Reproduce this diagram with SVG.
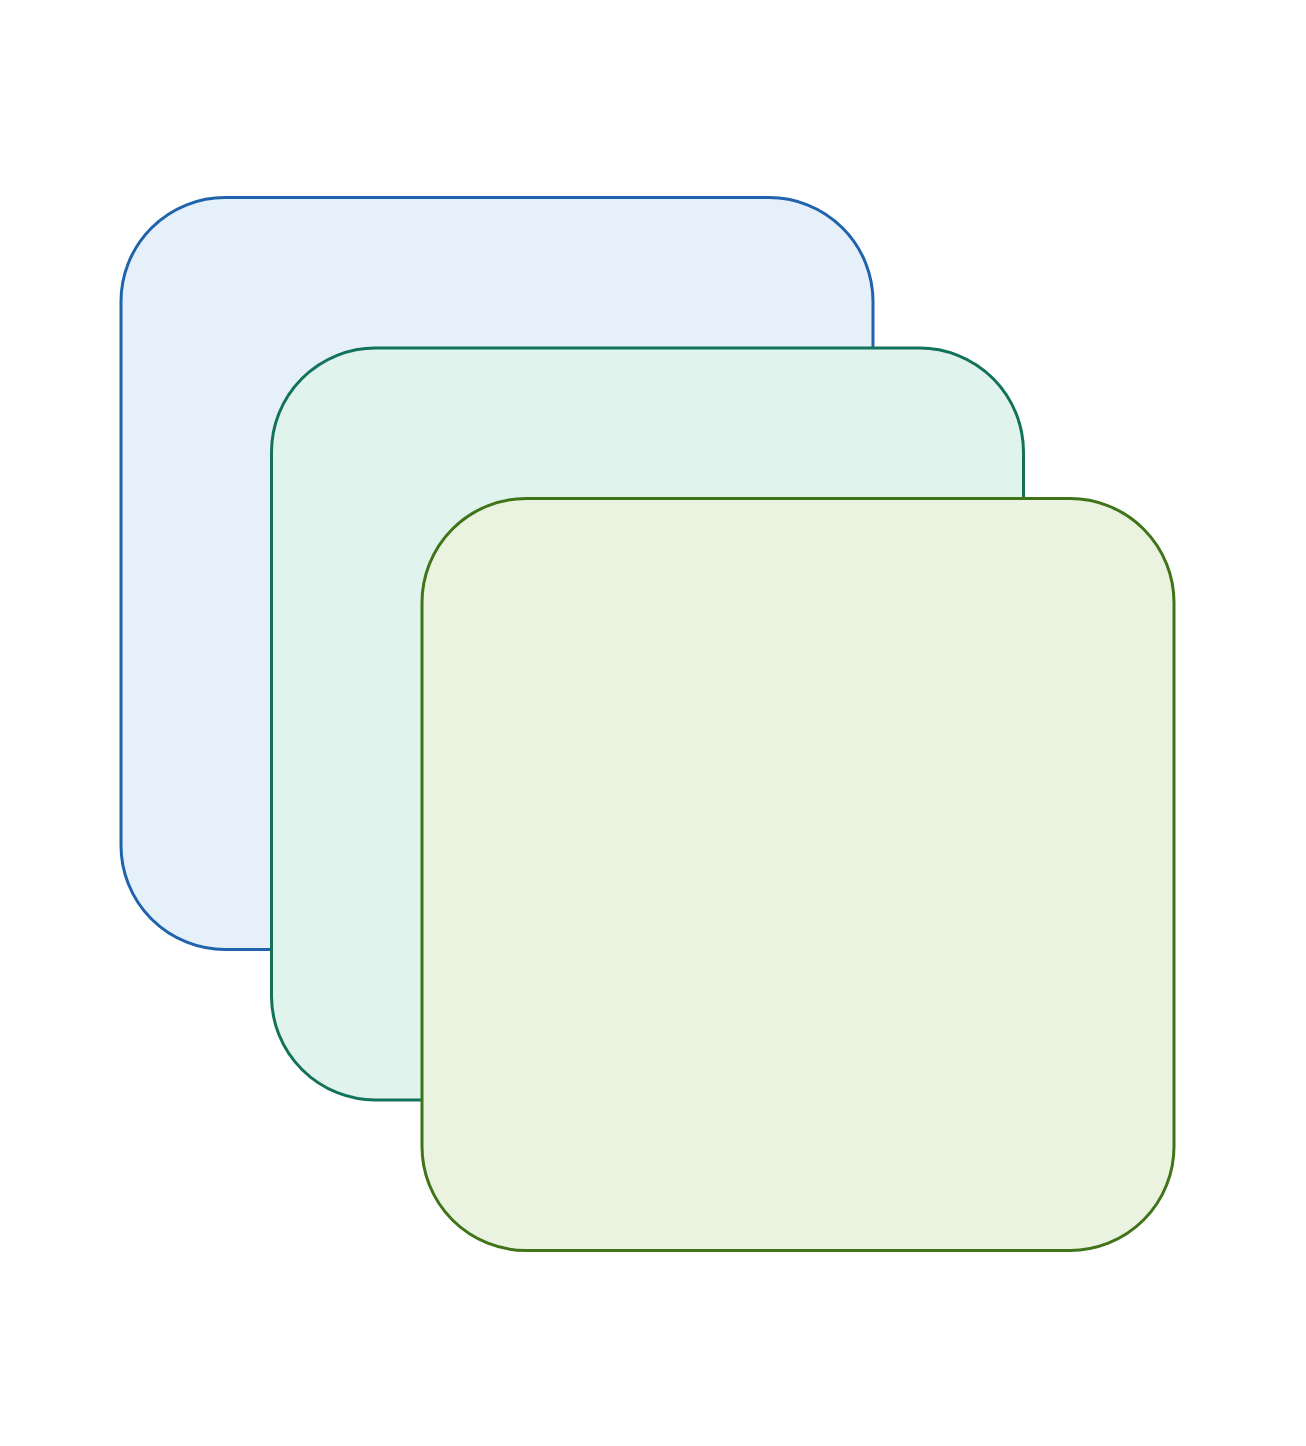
<svg xmlns="http://www.w3.org/2000/svg" width="1306" height="1446" viewBox="0 0 1306 1446">
<style>
.card{stroke-width:3}
</style>
<rect width="1306" height="1446" fill="#ffffff"/>
<g id="card-blue"><rect class="card" x="121" y="197.5" width="752" height="752" rx="104" fill="#e6f0fa" stroke="#1f63ad"/></g>
<g id="card-teal"><rect class="card" x="271.5" y="348" width="752" height="752" rx="104" fill="#e0f3ed" stroke="#12725a"/></g>
<g id="card-green"><rect class="card" x="422" y="498.5" width="752" height="752" rx="104" fill="#e9f3df" stroke="#3f7419"/></g>
<g id="connectors"></g>
</svg>
